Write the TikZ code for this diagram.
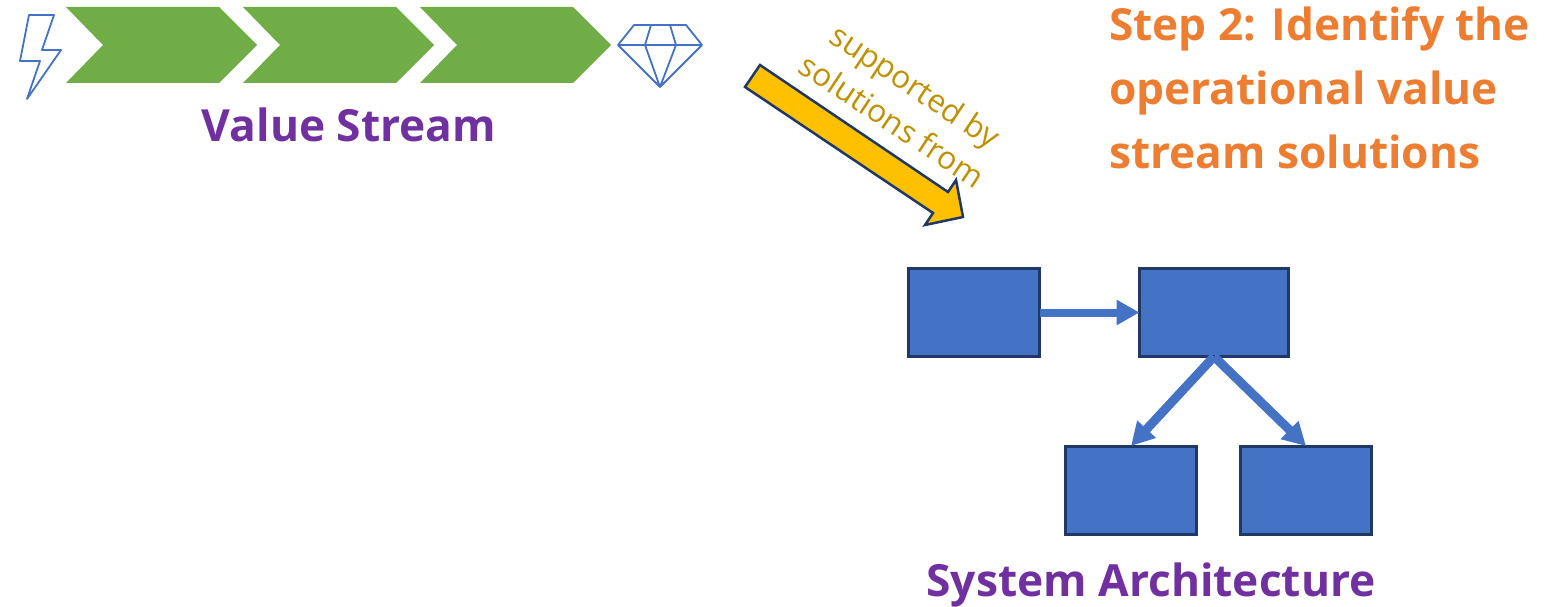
\documentclass[tikz,border=0pt]{standalone}
\usepackage{fontspec}
\setmainfont{Open Sans}
\usepackage{tikz}
\usetikzlibrary{positioning,arrows.meta}
\definecolor{flowblue}{HTML}{4472C4}
\definecolor{flowdark}{HTML}{1F3864}
\definecolor{flowgreen}{HTML}{70AD47}
\definecolor{flowgold}{HTML}{FFC000}
\definecolor{flowolive}{HTML}{BF9000}
\definecolor{flowpurple}{HTML}{7030A0}
\definecolor{floworange}{HTML}{ED7D31}

\begin{document}
\begin{tikzpicture}[x=1pt,y=-1pt,>={Triangle[length=23pt,width=24pt]},
  sys node/.style={rectangle,fill=flowblue,draw=flowdark,line width=3pt,
  outer sep=0pt,inner sep=0pt,minimum height=88pt},
  chevron/.style={fill=flowgreen},
  outline/.style={draw=flowblue,line width=1.8pt,line join=round},
  link/.style={->,draw=flowblue,fill=flowblue,line width=8pt},
  title node/.style={font=\bfseries\fontsize{44.3}{50}\selectfont,text=flowpurple}]

  \useasboundingbox (0,0) rectangle (1563,607);

  % value stream
  \foreach \dx in {0,177,354}
    \fill[chevron,shift={(\dx pt,0)}] (66,7) -- (219,7) -- (257,45) -- (219,83) -- (66,83) -- (103,45) -- cycle;
  \draw[outline] (29,15) -- (54,15) -- (42,50) -- (61,50) -- (27,99) -- (40,61) -- (20,61) -- cycle;
  \draw[outline] (634,25) -- (686,25) -- (702,45) -- (660,87) -- (618,45) -- cycle
    (618,45) -- (702,45)
    (651,25) -- (645,45) -- (660,87) -- (676,45) -- (670,25);
  \node[title node] (stream) at (349,125) {Value Stream};

  % big arrow
  \draw[fill=flowgold,draw=flowdark,line width=2.5pt,line join=miter]
    (760,65) -- (948,192) -- (956,180) -- (963,217) -- (925,225) -- (933,213) -- (745,87) -- cycle;
  \node[rotate=-33.5,align=center,text=flowolive,font=\fontsize{31.5}{42}\selectfont] (support) at (904,103)
    {supported by\\solutions from};

  \node[anchor=north west,align=left,text=floworange,
    font=\bfseries\fontsize{44.2}{64}\selectfont,inner sep=0pt] (step) at (1109,6)
    {Step 2: Identify the\\operational value\\stream solutions};

  % architecture
  \node[sys node,minimum width=131pt] (first) at (974,312.5) {};
  \node[sys node,minimum width=149pt] (second) at (1214,312.5) {};
  \node[sys node,minimum width=131pt] (third) at (1131,490) {};
  \node[sys node,minimum width=131pt] (fourth) at (1306,490) {};

  \draw[link] (first) -- (second);
  \draw[link,line width=9pt] (second.south) -- (third.north);
  \draw[link,line width=9pt] (second.south) -- (fourth.north);

  \node[title node] (arch) at (1151,585) {System Architecture};
\end{tikzpicture}
\end{document}
